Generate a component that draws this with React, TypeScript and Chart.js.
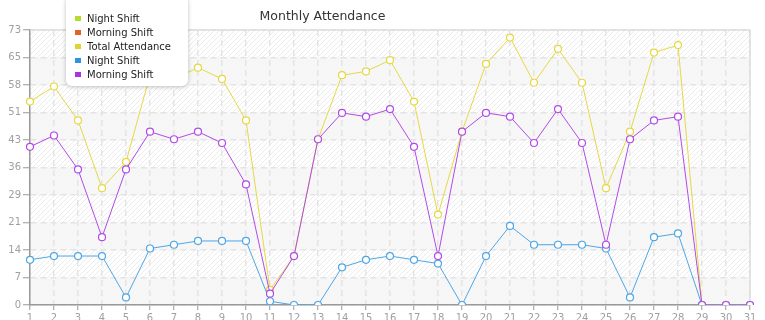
import React, { useEffect, useRef } from "react";
import { Chart, registerables } from "chart.js";

Chart.register(...registerables);

const days = ["1","2","3","4","5","6","7","8","9","10","11","12","13","14","15","16","17","18","19","20","21","22","23","24","25","26","27","28","29","30","31"];
const totalAttendance = [54,58,49,31,38,61,60,63,60,49,4,13,44,61,62,65,54,24,46,64,71,59,68,59,31,46,67,69,0,0,0];
const nightShift = [12,13,13,13,2,15,16,17,17,17,1,0,0,10,12,13,12,11,0,13,21,16,16,16,15,2,18,19,0,0,0];
const morningShift = [42,45,36,18,36,46,44,46,43,32,3,13,44,51,50,52,42,13,46,51,50,43,52,43,16,44,49,50,0,0,0];
const nightShiftBars: number[] = [];
const morningShiftBars: number[] = [];
const yMax = 73;
const yStep = 7.3;
const tickCount = 10;

const legendItems = [
  { label: "Night Shift", color: "#b5dc2c" },
  { label: "Morning Shift", color: "#e0632c" },
  { label: "Total Attendance", color: "#e2d32e" },
  { label: "Night Shift", color: "#2f93e0" },
  { label: "Morning Shift", color: "#a933e0" },
];

const FONT = "'DejaVu Sans', sans-serif";

function makePattern(ctx: CanvasRenderingContext2D) {
  const c = document.createElement("canvas");
  c.width = 5;
  c.height = 5;
  const p = c.getContext("2d")!;
  p.strokeStyle = "rgba(0,0,0,0.075)";
  p.lineWidth = 1;
  p.beginPath();
  p.moveTo(-1, 6);
  p.lineTo(6, -1);
  p.stroke();
  return ctx.createPattern(c, "repeat");
}

const bgPlugin = {
  id: "bgPlugin",
  beforeDraw(chart: any) {
    const { ctx, chartArea } = chart;
    const { left, top, right, bottom } = chartArea;
    const y = chart.scales.y;
    ctx.save();
    ctx.fillStyle = "#ffffff";
    ctx.fillRect(left, top, right - left, bottom - top);
    const pat = makePattern(ctx);
    if (pat) {
      ctx.fillStyle = pat;
      ctx.fillRect(left, top, right - left, bottom - top);
    }
    for (let i = 0; i < tickCount; i++) {
      if (i % 2 === 0) {
        const y0 = y.getPixelForValue(i * yStep);
        const y1 = y.getPixelForValue((i + 1) * yStep);
        ctx.fillStyle = "rgba(246,246,246,0.85)";
        ctx.fillRect(left, y1, right - left, y0 - y1);
      }
    }
    ctx.restore();
  },
  beforeDatasetsDraw(chart: any) {
    const { ctx, chartArea } = chart;
    const { left, top, right, bottom } = chartArea;
    ctx.save();
    ctx.strokeStyle = "#dddddd";
    ctx.lineWidth = 1.5;
    ctx.setLineDash([]);
    ctx.beginPath();
    ctx.moveTo(left, top);
    ctx.lineTo(right, top);
    ctx.lineTo(right, bottom);
    ctx.stroke();
    ctx.restore();
  },
};

export default function App() {
  const ref = useRef<HTMLCanvasElement>(null);
  useEffect(() => {
    if (!ref.current) return;
    const lineDs = (label: string, data: number[], color: string, order: number) => ({
      label,
      data,
      borderColor: color,
      backgroundColor: "#ffffff",
      borderWidth: 1,
      pointRadius: 3.5,
      pointBorderWidth: 1.2,
      pointBackgroundColor: "#ffffff",
      pointBorderColor: color,
      tension: 0,
      order,
    });
    const chart = new Chart(ref.current, {
      type: "line",
      data: {
        labels: days,
        datasets: [
          lineDs("Night Shift", nightShiftBars, "#b5dc2c", 5),
          lineDs("Morning Shift", morningShiftBars, "#e0632c", 4),
          lineDs("Total Attendance", totalAttendance, "#e6d844", 2),
          lineDs("Night Shift", nightShift, "#4ea6e6", 1),
          lineDs("Morning Shift", morningShift, "#b24ae8", 0),
        ],
      },
      options: {
        animation: false,
        responsive: false,
        maintainAspectRatio: false,
        layout: { padding: { top: 30, right: 15, left: 0, bottom: 0 } },
        plugins: {
          legend: { display: false },
          title: { display: false },
          tooltip: { enabled: false },
        },
        scales: {
          x: {
            offset: false,
            grid: {
              color: "#e4e4e4",
              lineWidth: 1.5,
              tickLength: 5,
              tickColor: "#999999",
              tickWidth: 1,
              tickBorderDash: [],
            } as any,
            border: { color: "#999999", width: 1.5, dash: [6, 4] } as any,
            ticks: {
              color: "#a0a0a0",
              font: { family: FONT, size: 10 },
              padding: 2,
              maxRotation: 0,
              autoSkip: false,
            },
            afterFit(scale: any) {
              scale.height = 15;
            },
          },
          y: {
            min: 0,
            max: yMax,
            afterBuildTicks(scale: any) {
              const t = [];
              for (let i = 0; i <= tickCount; i++) t.push({ value: i * yStep });
              scale.ticks = t;
            },
            grid: {
              color: "#e4e4e4",
              lineWidth: 1.5,
              tickLength: 7,
              tickColor: "#999999",
              tickWidth: 1,
              tickBorderDash: [],
            } as any,
            border: { color: "#999999", width: 1.5, dash: [6, 4] } as any,
            ticks: {
              color: "#a0a0a0",
              font: { family: FONT, size: 10 },
              padding: 2,
              callback: (v: any) => String(Math.floor(Number(v) + 1e-6)),
            },
            afterFit(scale: any) {
              scale.width = 30;
            },
          },
        },
      },
      plugins: [bgPlugin],
    });
    return () => chart.destroy();
  }, []);

  return (
    <div style={{ position: "fixed", left: 0, top: 0, width: 765, height: 320, background: "#fff", overflow: "hidden" }}>
      <canvas ref={ref} width={765} height={320} style={{ position: "absolute", left: 0, top: 0, width: 765, height: 320 }} />
      <div
        style={{
          position: "absolute",
          left: 0,
          width: 645,
          top: 8,
          textAlign: "center",
          fontFamily: FONT,
          fontSize: 12.5,
          color: "#333",
          lineHeight: "16px",
        }}
      >
        Monthly Attendance
      </div>
      <div
        style={{
          position: "absolute",
          left: 66,
          top: -4,
          width: 122,
          height: 90,
          background: "#fff",
          borderRadius: 6,
          boxShadow: "0 1px 4px rgba(0,0,0,0.25)",
          boxSizing: "border-box",
          paddingTop: 15,
          paddingLeft: 9,
          fontFamily: FONT,
          fontSize: 10,
          color: "#222",
        }}
      >
        {legendItems.map((it, i) => (
          <div key={i} style={{ display: "flex", alignItems: "center", height: 14 }}>
            <span style={{ display: "inline-block", width: 6, height: 5, background: it.color, marginRight: 6 }} />
            <span>{it.label}</span>
          </div>
        ))}
      </div>
    </div>
  );
}
